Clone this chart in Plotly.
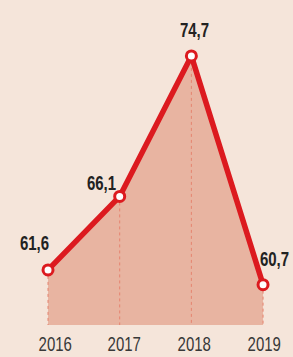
import plotly.graph_objects as go

years = [2016, 2017, 2018, 2019]
values = [61.6, 66.1, 74.7, 60.7]
labels = ["61,6", "66,1", "74,7", "60,7"]
tick_labels = ["2016", "2017", "2018", "2019"]

BG = "#f5e5da"
FILL = "#e8b4a1"
RED = "#dc1a1f"
DROP = "#e5836f"
TXT = "#222222"
FONT = "Liberation Sans, Arial, sans-serif"

ymin, ymax = 58.23, 78.12

fig = go.Figure()

fig.add_trace(go.Scatter(x=years, y=values, mode="none", fill="tozeroy",
                         fillcolor=FILL, hoverinfo="skip", showlegend=False))

for yr, v in zip(years, values):
    fig.add_trace(go.Scatter(x=[yr, yr], y=[v, ymin], mode="lines",
                             line=dict(color=DROP, width=1, dash="3px,3px"),
                             hoverinfo="skip", showlegend=False))

fig.add_trace(go.Scatter(x=years, y=values, mode="lines+markers",
                         line=dict(color=RED, width=5.5),
                         marker=dict(size=10, color="white", line=dict(color=RED, width=3)),
                         hoverinfo="skip", showlegend=False))

value_offsets = [(-14, 27), (-18, 13), (3, 26), (11, 26)]
for yr, v, t, (dx, dy) in zip(years, values, labels, value_offsets):
    fig.add_annotation(x=yr, y=v, text=t, showarrow=False, xshift=dx, yshift=dy,
                       font=dict(family=FONT, size=20, color=TXT, weight="bold"))

year_shifts = [7, 5, 3, 1]
for yr, t, dx in zip(years, tick_labels, year_shifts):
    fig.add_annotation(x=yr, y=0, yref="paper", yanchor="top", text=t, showarrow=False,
                       xshift=dx, yshift=-6,
                       font=dict(family=FONT, size=20, color="#383838"))

fig.update_layout(
    width=293, height=357,
    margin=dict(l=0, r=0, t=0, b=32),
    paper_bgcolor=BG, plot_bgcolor=BG,
    xaxis=dict(range=[2015.330, 2019.418], showgrid=False, zeroline=False,
               showline=False, showticklabels=False, ticks=""),
    yaxis=dict(range=[ymin, ymax], visible=False, showgrid=False, zeroline=False),
)

post = (
    "document.body.style.margin='0';document.body.style.background='%s';"
    "var k=0.75;"
    "document.querySelectorAll('.annotation-text').forEach(function(t){"
    "var cx=parseFloat(t.getAttribute('x'))||0;"
    "t.setAttribute('transform','matrix('+k+',0,0,1,'+(cx*(1-k))+',0)');});" % BG
)

fig.write_html("out.html", config={"displayModeBar": False}, post_script=post)
